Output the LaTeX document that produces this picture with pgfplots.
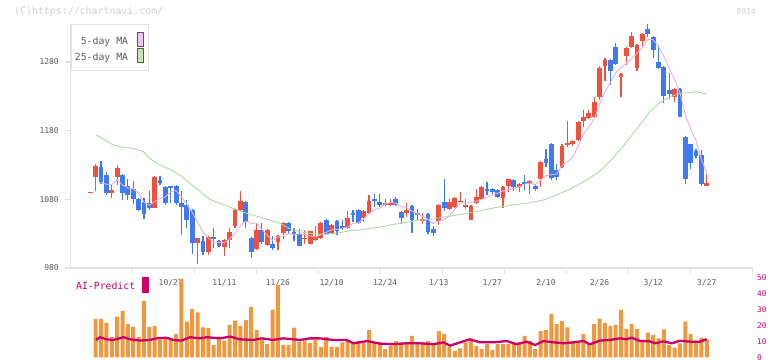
\documentclass[border=0pt]{standalone}
\usepackage{pgfplots}
\pgfplotsset{compat=1.18}
\usepackage{pgfplotstable}
\usepackage{fontspec}
\setmonofont{DejaVu Sans Mono}
\newcommand{\tfs}[1]{\ttfamily\fontsize{#1}{#1}\selectfont}
\definecolor{cred}{HTML}{F0503C}
\definecolor{cblue}{HTML}{3F7AF0}
\definecolor{mapink}{HTML}{E4AEE4}
\definecolor{magreen}{HTML}{B0D8A2}
\definecolor{swpink}{HTML}{F0C4F0}
\definecolor{swgreen}{HTML}{C4E4B8}
\definecolor{vorange}{HTML}{F0983F}
\definecolor{crim}{HTML}{CC0066}
\definecolor{axgray}{HTML}{E2E2E2}
\definecolor{lblgray}{HTML}{5A5A5A}
\definecolor{wmgray}{HTML}{D0D0D0}

\pgfplotstableread{
k o h l c
0 1090 1090 1090 1090
1 1112 1131.4 1092.1 1128.5
2 1126.5 1135.7 1102.3 1105.6
3 1115.4 1120.2 1086.2 1089.6
4 1089.6 1100.8 1082.8 1093.5
5 1112 1129.9 1100.8 1125.5
6 1115.4 1116.3 1079 1089.6
7 1099.3 1109 1079.9 1086.2
8 1095 1107.1 1073.1 1079.9
9 1079.9 1080.9 1063 1064.4
10 1076.5 1081.4 1051.3 1058.6
11 1074.1 1091.1 1064.4 1067.8
12 1067.8 1113.9 1067.3 1112.9
13 1108.1 1113.9 1100.8 1104.2
14 1098.4 1099.3 1071.7 1074.1
15 1099.3 1099.8 1074.6 1096.4
16 1099.3 1100.3 1072.7 1075.1
17 1075.1 1091.1 1029 1069.3
18 1071.7 1079 1039.2 1049.9
19 1064.4 1065.4 1001.3 1015.9
20 1015.9 1024.1 986.8 1023.2
21 1019.3 1025.6 999.9 1003.8
22 1003.8 1025.6 998.9 1024.6
23 1025.6 1037.7 1010.1 1022.7
24 1019.3 1020.7 1011 1012
25 1011 1021.7 997.5 1020.7
26 1020.7 1037.7 1010.1 1032.4
27 1041.1 1065.4 1039.2 1064.4
28 1064.4 1091.1 1063.4 1077.5
29 1076.5 1077.5 1038.7 1046.5
30 1024.1 1025.1 995 1003.3
31 1008.1 1045 1007.2 1035.3
32 1035.3 1045 1015.9 1018.3
33 1013.5 1036.3 1013 1035.3
34 1014.9 1025.6 1006.2 1009.6
35 1018.3 1027.5 1006.2 1026.6
36 1031.4 1047 1023.2 1046
37 1046 1047.4 1030.5 1033.9
38 1032.9 1037.7 1019.3 1029
39 1029.5 1036.3 1012 1012
40 1022.2 1035.3 1014.9 1024.1
41 1015.4 1033.9 1014.9 1033.9
42 1020.8 1040.2 1019.8 1026.6
43 1023.2 1047 1022.2 1046
44 1049.9 1051.3 1029 1029.5
45 1030.5 1043.6 1029.5 1042.6
46 1048.9 1049.9 1028 1033.9
47 1041.1 1049.9 1035.3 1038.7
48 1037.7 1062 1037.2 1053.3
49 1060.5 1064.4 1047.4 1057.1
50 1064.4 1065.4 1045 1046
51 1053.3 1064.4 1047.4 1063.5
52 1060.5 1086.3 1059.6 1077.5
53 1079.5 1087.2 1069.3 1078.5
54 1076.1 1087.7 1069.3 1071.7
55 1071.7 1080 1070.7 1074.6
56 1071.7 1080 1070.7 1075.1
57 1080 1082.9 1070.7 1071.7
58 1061.5 1062.5 1045 1053.3
59 1059.6 1074.1 1054.7 1064.4
60 1070.2 1071.2 1031.4 1049.9
61 1059.6 1065.9 1050.8 1056.7
62 1048.9 1059.6 1044 1051.3
63 1058.6 1059.6 1030.5 1032.9
64 1036.3 1040.2 1026.6 1031.4
65 1048.9 1072.7 1042.6 1071.7
66 1076.1 1109.1 1063.5 1066.9
67 1065.9 1079.9 1065.4 1076
68 1069.2 1082.8 1068.3 1081.9
69 1076.5 1090.6 1075.1 1078
70 1069.2 1079.9 1066.8 1071.7
71 1049.8 1071.2 1049.8 1070.2
72 1075.1 1094.5 1074.1 1082.8
73 1079.9 1099.3 1079 1097.4
74 1095.5 1105.2 1086.2 1091.6
75 1094.5 1095.5 1088.7 1090.6
76 1093.5 1094.5 1081.9 1082.8
77 1082.3 1099.3 1068.3 1098.4
78 1099.3 1110 1091.1 1109
79 1108.1 1110 1092.5 1098.4
80 1098.4 1104.2 1091.1 1101.8
81 1105.2 1114.9 1094.5 1103.2
82 1102.2 1107.6 1088.7 1106.6
83 1099.3 1101.8 1092.5 1095.5
84 1110 1135.2 1098.4 1134.3
85 1138.1 1152.7 1127.5 1132.3
86 1160.5 1161.4 1109 1110.5
87 1122.6 1131.4 1109 1111.9
88 1127.5 1160.5 1126.5 1157.6
89 1159.5 1194.4 1156.6 1161.4
90 1160 1166.3 1157.6 1164.8
91 1166.3 1194 1165.4 1193
92 1194 1210 1185.8 1200.3
93 1198.9 1210 1197.9 1206.1
94 1200.3 1228 1199.8 1221.2
95 1229.4 1274.5 1224.6 1271.6
96 1274.5 1286.2 1252.2 1282.8
97 1282.8 1284.3 1246.4 1267.3
98 1301.2 1307.1 1275.5 1276.5
99 1258.5 1263.4 1229.4 1262.4
100 1289.1 1301.7 1275.5 1300.7
101 1301.7 1323.1 1301.2 1318.2
102 1271.6 1305.6 1266.8 1304.6
103 1310.5 1322.1 1303.7 1321.1
104 1327.9 1334.7 1316.8 1320.2
105 1316.3 1317.3 1286.2 1297.8
106 1280.4 1304.6 1270.7 1271.6
107 1273.1 1274.1 1221.2 1230.9
108 1239.1 1263.4 1227 1232.8
109 1229.4 1242.5 1222.2 1240.6
110 1240.6 1241.6 1200.3 1200.3
111 1171.2 1171.2 1102.3 1109.6
112 1160.5 1160.5 1124.1 1133.4
113 1150.8 1152.3 1140.6 1143.5
114 1144.5 1151.8 1099.4 1102.3
115 1099.9 1116.9 1099.9 1103.8
}\ohlc

\pgfplotstableread{
k v
1 24.1
2 24.1
3 21.7
4 12.6
5 25.5
6 29.1
7 20.9
8 19.0
9 12.6
10 35.4
11 19.0
12 19.7
13 11.3
14 12.0
15 11.3
16 14.6
17 49.2
18 22.4
19 30.3
20 28.2
21 18.8
22 18.4
23 7.7
24 13.0
25 10.5
26 20.3
27 23.0
28 19.7
29 23.4
30 31.6
31 17.1
32 10.9
33 8.4
34 29.9
35 45.4
36 7.8
37 7.8
38 18.6
39 9.8
40 10.5
41 8.9
42 10.9
43 6.5
44 12.9
45 6.5
46 6.5
47 9.4
48 10.4
49 9.4
50 10.2
51 9.4
52 17.1
53 9.4
54 9.4
55 5.2
56 7.1
57 10.2
58 9.4
59 9.4
60 13.4
61 9.4
62 9.4
63 10.2
64 7.7
65 16.5
66 14.6
67 6.5
68 4.0
69 5.6
70 9.4
71 10.2
72 7.1
73 5.2
74 8.2
75 4.6
76 8.2
77 8.4
78 8.4
79 9.4
80 9.4
81 13.4
82 10.2
83 5.2
84 16.5
85 17.1
86 27.2
87 20.9
88 22.8
89 18.8
90 9.4
91 9.4
92 14.6
93 8.5
94 20.9
95 24.3
96 21.7
97 19.7
98 20.3
99 29.7
100 17.8
101 20.9
102 17.8
103 10.4
104 15.5
105 14.0
106 11.9
107 17.6
108 7.7
109 6.0
110 8.8
111 22.4
112 14.6
113 10.5
114 12.4
115 10.9
}\vol

\begin{document}
\begin{tikzpicture}
\useasboundingbox (0pt,0pt) rectangle (772pt,361pt);

% ---------------- price panel ----------------
\begin{axis}[
  at={(70.5pt,93pt)}, anchor=south west,
  scale only axis, width=682.2pt, height=244pt,
  xmin=-3.701, xmax=123.57, ymin=980, ymax=1335.3,
  axis x line*=bottom, axis y line*=left,
  axis line style={draw=axgray, line width=1.5pt, -},
  xtick={7.87,19.44,31.01,42.58,54.15,65.72,77.29,88.86,100.43,112.0,123.57},
  xticklabels={},
  ytick={980,1080,1180,1280},
  yticklabels={980,1080,1180,1280},
  tick style={draw=axgray, line width=1.2pt},
  major tick length=6pt,
  tick align=outside,
  yticklabel style={font=\tfs{8}, text=lblgray, inner sep=0pt, xshift=-5.5pt},
  legend style={at={(0,1)}, anchor=north west, draw=axgray, line width=1pt,
    fill=white, font=\tfs{9.8}, text=lblgray, inner xsep=3pt, inner ysep=7.5pt,
    row sep=0.5pt, nodes={inner sep=1pt}},
  legend plot pos=right,
  legend cell align=right,
]
% wicks
\addplot[forget plot, draw=none, error bars/.cd, y dir=both, y explicit, error mark=none,
  error bar style={draw=cred, line width=1.2pt}]
  table[x=k, y expr={\thisrow{c}<\thisrow{o} ? nan : (\thisrow{h}+\thisrow{l})/2},
        y error expr={(\thisrow{h}-\thisrow{l})/2+0.3}] {\ohlc};
\addplot[forget plot, draw=none, error bars/.cd, y dir=both, y explicit, error mark=none,
  error bar style={draw=cblue, line width=1.2pt}]
  table[x=k, y expr={\thisrow{c}<\thisrow{o} ? (\thisrow{h}+\thisrow{l})/2 : nan},
        y error expr={(\thisrow{h}-\thisrow{l})/2+0.3}] {\ohlc};
% bodies
\addplot[forget plot, draw=none, error bars/.cd, y dir=both, y explicit, error mark=none,
  error bar style={draw=cred, line width=4.8pt}]
  table[x=k, y expr={\thisrow{c}<\thisrow{o} ? nan : (\thisrow{o}+\thisrow{c})/2},
        y error expr={max(abs(\thisrow{c}-\thisrow{o})/2,0.75)}] {\ohlc};
\addplot[forget plot, draw=none, error bars/.cd, y dir=both, y explicit, error mark=none,
  error bar style={draw=cblue, line width=4.8pt}]
  table[x=k, y expr={\thisrow{c}<\thisrow{o} ? (\thisrow{o}+\thisrow{c})/2 : nan},
        y error expr={max(abs(\thisrow{c}-\thisrow{o})/2,0.75)}] {\ohlc};

% 5-day MA
\addplot[mapink, line width=0.9pt,
  legend image code/.code={\path (0pt,0pt) (15.5pt,0pt); \draw[draw=black!65, fill=swpink, line width=0.9pt] (8pt,-5.5pt) rectangle (13.5pt,9pt);}]
coordinates {
(2,1104) (3,1102) (4,1101.4) (5,1108.5) (6,1100.8) (7,1096.9) (8,1094.9) (9,1089.1)
(10,1075.7) (11,1071.4) (12,1076.7) (13,1081.6) (14,1083.5) (15,1091.1) (16,1092.5)
(17,1083.8) (18,1073.0) (19,1061.3) (20,1046.7) (21,1032.4) (22,1023.5) (23,1018.0)
(24,1017.3) (25,1016.8) (26,1022.5) (27,1030.4) (28,1041.4) (29,1048.3) (30,1044.8)
(31,1045.4) (32,1036.2) (33,1027.7) (34,1020.4) (35,1025.0) (36,1027.2) (37,1030.3)
(38,1029.0) (39,1029.5) (40,1029.0) (41,1026.6) (42,1025.1) (43,1028.5) (44,1032.0)
(45,1035.7) (46,1035.7) (47,1038.1) (48,1039.6) (49,1045.1) (50,1045.8) (51,1051.7)
(52,1059.5) (53,1064.5) (54,1067.4) (55,1073.2) (56,1075.5) (57,1074.3) (58,1069.3)
(59,1067.8) (60,1062.9) (61,1059.2) (62,1055.1) (63,1051.0) (64,1044.4) (65,1048.8)
(66,1050.8) (67,1055.8) (68,1065.6) (69,1074.9) (70,1074.9) (71,1075.6) (72,1076.9)
(73,1080.0) (74,1082.7) (75,1086.5) (76,1089.0) (77,1092.2) (78,1094.5) (79,1095.8)
(80,1098.1) (81,1102.2) (82,1103.8) (83,1101.1) (84,1108.3) (85,1114.4) (86,1115.8)
(87,1116.9) (88,1129.3) (89,1134.7) (90,1141.2) (91,1157.7) (92,1175.4) (93,1185.1)
(94,1197.1) (95,1218.4) (96,1236.4) (97,1249.8) (98,1263.9) (99,1272.1) (100,1277.9)
(101,1285.0) (102,1292.5) (103,1301.4) (104,1313.0) (105,1312.4) (106,1303.1)
(107,1288.3) (108,1270.7) (109,1254.7) (110,1235.2) (111,1202.8) (112,1183.3)
(113,1165.5) (114,1137.8) (115,1118.5)
};
\addlegendentry{5-day MA}

% 25-day MA
\addplot[magreen, line width=0.9pt,
  legend image code/.code={\path (0pt,0pt) (15.5pt,0pt); \draw[draw=black!65, fill=swgreen, line width=0.9pt] (8pt,-5.5pt) rectangle (13.5pt,9pt);}]
coordinates {
(1.06,1174) (2.7,1166.3) (4.3,1159.0) (6.2,1155.6) (8.0,1154.2) (9.9,1149.3)
(11.1,1139.6) (13.0,1129.9) (14.9,1123.6) (16.7,1115.4) (18.6,1103.2) (20.5,1091.1)
(22.3,1080.0) (24.2,1074.1) (26.7,1066.8) (29.2,1059.6) (31.6,1054.2) (33.5,1049.9)
(35.4,1045.0) (37.2,1037.3) (39.1,1032.9) (41.0,1030.5) (42.8,1029.0) (44.7,1029.5)
(46.6,1031.4) (48.4,1034.3) (50.3,1035.3) (52.2,1037.7) (54.0,1039.2) (55.9,1042.6)
(57.8,1045.0) (59.6,1047.4) (61.5,1049.9) (63.4,1050.8) (66.5,1054.7) (69.6,1058.6)
(72.7,1063.4) (75.8,1068.3) (78.9,1071.7) (82.0,1075.1) (84.5,1079.0) (87.0,1086.2)
(89.5,1095.0) (92.6,1108.1) (95.1,1121.5) (97.6,1141.0) (100.1,1163.9) (102.5,1188.2)
(104.4,1207.6) (106.3,1221.2) (108.2,1229.4) (110.1,1234.3) (111.3,1235.2)
(113.1,1236.7) (115.0,1233.3)
};
\addlegendentry{25-day MA}
\end{axis}

% ---------------- volume / AI panel ----------------
\begin{axis}[
  at={(70.5pt,3.7pt)}, anchor=south west,
  scale only axis, width=682.2pt, height=79.6pt,
  xmin=-3.701, xmax=123.57, ymin=0, ymax=50,
  axis x line=none, axis y line*=right,
  y axis line style={draw=none},
  ytick={0,10,20,30,40,50},
  yticklabels={0,10,20,30,40,50},
  major tick length=0pt,
  yticklabel style={font=\tfs{7.7}, text=crim, anchor=west, inner sep=0pt, xshift=4.3pt},
  clip=false,
]
\node[font=\tfs{8}, text=lblgray] at (axis cs:15,46.7) {10/27};
\node[font=\tfs{8}, text=lblgray] at (axis cs:25,46.7) {11/11};
\node[font=\tfs{8}, text=lblgray] at (axis cs:35,46.7) {11/26};
\node[font=\tfs{8}, text=lblgray] at (axis cs:45,46.7) {12/10};
\node[font=\tfs{8}, text=lblgray] at (axis cs:55,46.7) {12/24};
\node[font=\tfs{8}, text=lblgray] at (axis cs:65,46.7) {1/13};
\node[font=\tfs{8}, text=lblgray] at (axis cs:75,46.7) {1/27};
\node[font=\tfs{8}, text=lblgray] at (axis cs:85,46.7) {2/10};
\node[font=\tfs{8}, text=lblgray] at (axis cs:95,46.7) {2/26};
\node[font=\tfs{8}, text=lblgray] at (axis cs:105,46.7) {3/12};
\node[font=\tfs{8}, text=lblgray] at (axis cs:115,46.7) {3/27};
\addplot[ybar, bar width=4pt, fill=vorange, draw=none] table[x=k, y=v] {\vol};
\addplot[crim, line width=2.3pt, line join=round] coordinates {
(1.06,10.9) (1.8,12.6) (3.0,11.3) (4.3,10.9) (6.2,12.6) (7.4,11.3) (9.3,10.5)
(11.1,10.9) (12.4,11.9) (14.2,12.3) (15.5,10.9) (17.0,10.5) (18.6,12.6) (20.5,11.9)
(21.7,12.6) (24.2,11.9) (26.1,13.0) (27.9,11.3) (30.4,10.9) (32,11.9) (34,10.9)
(36,11.9) (39.1,10.9) (41,11.9) (42.8,11.9) (45.3,10.9) (47.8,10.9) (49.1,8.8)
(51.6,10.2) (54,8.6) (56.5,8.2) (59,8.8) (61.5,8.8) (64,8.2) (65.9,9.4) (67.1,7.3)
(69,9.4) (70.8,11.3) (72.7,9.4) (75.2,9.4) (77.7,10.2) (79.5,8.2) (81.4,9.8) (83,7.7)
(84.5,10.2) (86.4,9.4) (88.3,8.8) (90.1,9.4) (92,10.2) (93.2,8.2) (95.1,10.5) (97,10.9)
(98.8,11.9) (100,11.3) (101,12.3) (102.5,10.3) (104.4,10.0) (105.4,8.8) (106.9,10.0)
(108.5,8.8) (110,10.4) (111.9,9.8) (113.7,9.8) (115,11.4)
};
\end{axis}

\node[anchor=west, inner sep=0pt, font=\tfs{9.8}, text=crim] at (76pt,75pt) {AI-Predict};
\fill[crim] (142pt,68.3pt) rectangle (148.7pt,84.3pt);
\node[anchor=west, inner sep=0pt, font=\tfs{9.9}, text=wmgray] at (14pt,349pt) {(C)https://chartnavi.com/};
\node[anchor=east, inner sep=0pt, font=\tfs{8}, text=wmgray] at (756pt,349pt) {8914};
\end{tikzpicture}
\end{document}
